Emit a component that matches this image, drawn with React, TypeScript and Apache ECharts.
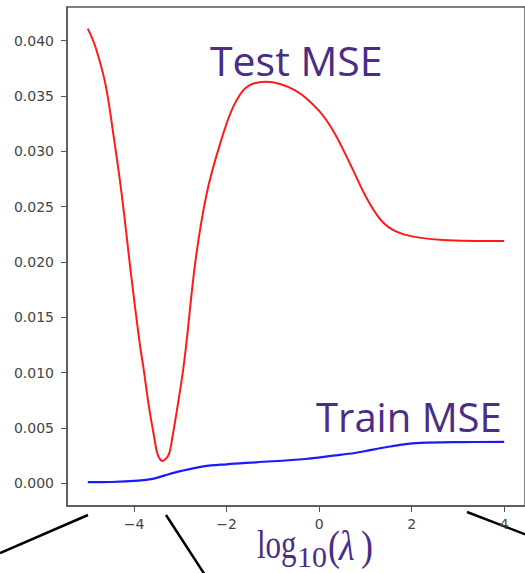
import React, { useEffect, useRef } from "react";
import * as echarts from "echarts";

const testX = [-5.0, -4.84, -4.62, -4.45, -4.27, -4.06, -3.88, -3.79, -3.69, -3.567, -3.5, -3.44, -3.384, -3.32, -3.24, -3.17, -3.05, -2.94, -2.87, -2.67, -2.43, -2.14, -1.86, -1.57, -1.15, -0.51, -0.01, 0.34, 0.7, 1.05, 1.4, 1.83, 2.68, 4.0];
const testY = [0.0411, 0.0395, 0.0361, 0.0316, 0.0262, 0.0187, 0.0127, 0.01024, 0.00723, 0.00421, 0.00271, 0.00218, 0.00202, 0.00218, 0.00271, 0.00421, 0.00723, 0.01024, 0.01265, 0.0202, 0.0262, 0.0307, 0.034, 0.0358, 0.0363, 0.0355, 0.0337, 0.0316, 0.0286, 0.0256, 0.0235, 0.0225, 0.022, 0.0219];

const trainX = [-5.0, -4.5, -3.91, -3.6, -3.35, -3.0, -2.5, -2.0, -1.36, -0.3, 0.3, 0.77, 1.1, 1.47, 1.8, 2.19, 3.0, 4.0];
const trainY = [0.0001, 0.00012, 0.00024, 0.0004, 0.0007, 0.0011, 0.00153, 0.00172, 0.0019, 0.0022, 0.0025, 0.00274, 0.003, 0.00328, 0.0035, 0.00365, 0.00372, 0.00374];

const yTicks = [0, 0.005, 0.01, 0.015, 0.02, 0.025, 0.03, 0.035, 0.04];
const xTicks = [-4, -2, 0, 2, 4];

const PURPLE = "#4a2d87";

export default function App() {
  const ref = useRef<HTMLDivElement>(null);
  useEffect(() => {
    if (!ref.current) return;
    const chart = echarts.init(ref.current, null, { renderer: "svg" });
    const serif = "'Liberation Serif', 'DejaVu Serif', serif";
    chart.setOption({
      animation: false,
      grid: {
        left: 67,
        top: 7,
        width: 466,
        height: 499,
        show: true,
        borderColor: "#555",
        borderWidth: 1.5,
        backgroundColor: "transparent",
      },
      xAxis: {
        type: "value",
        min: -5.45,
        max: 4.45,
        splitLine: { show: false },
        axisLine: { show: true, onZero: false, lineStyle: { color: "#555", width: 1.5 } },
        axisTick: { show: true, length: 6, lineStyle: { color: "#555" }, customValues: xTicks },
        axisLabel: {
          customValues: xTicks,
          margin: 11,
          color: "#444",
          fontFamily: "DejaVu Sans",
          fontSize: 14,
          formatter: (v: number) => (v < 0 ? "\u2212" + Math.abs(v) : String(v)),
        },
      },
      yAxis: {
        type: "value",
        min: -0.00205,
        max: 0.04305,
        splitLine: { show: false },
        axisLine: { show: true, onZero: false, lineStyle: { color: "#555", width: 1.5 } },
        axisTick: { show: true, length: 6, lineStyle: { color: "#555" }, customValues: yTicks },
        axisLabel: {
          customValues: yTicks,
          margin: 13,
          color: "#444",
          fontFamily: "DejaVu Sans",
          fontSize: 14,
          formatter: (v: number) => v.toFixed(3),
        },
      },
      series: [
        {
          type: "line",
          data: testX.map((x, i) => [x, testY[i]]),
          smooth: 0.35,
          showSymbol: false,
          lineStyle: { color: "#ff1a1a", width: 2 },
        },
        {
          type: "line",
          data: trainX.map((x, i) => [x, trainY[i]]),
          smooth: 0.35,
          showSymbol: false,
          lineStyle: { color: "#1a1aff", width: 2.2 },
        },
      ],
      graphic: [
        {
          type: "text",
          x: 210,
          y: 60,
          style: { text: "Test MSE", fill: PURPLE, font: "41px 'Open Sans'", textVerticalAlign: "middle" },
        },
        {
          type: "text",
          x: 316,
          y: 416,
          style: { text: "Train MSE", fill: PURPLE, font: "40px 'Open Sans'", textVerticalAlign: "middle" },
        },
        {
          type: "text",
          x: 257,
          y: 545,
          scaleY: 1.3,
          style: { text: "log", fill: PURPLE, font: `31px ${serif}`, textVerticalAlign: "middle" },
        },
        {
          type: "text",
          x: 297,
          y: 556,
          style: { text: "10", fill: PURPLE, font: `30px ${serif}`, textVerticalAlign: "middle" },
        },
        {
          type: "text",
          x: 328,
          y: 546,
          scaleY: 1.15,
          style: { text: "(", fill: PURPLE, font: `36px ${serif}`, textVerticalAlign: "middle" },
        },
        {
          type: "text",
          x: 339,
          y: 546,
          scaleY: 1.15,
          style: { text: "\u03bb", fill: PURPLE, font: `italic 36px ${serif}`, textVerticalAlign: "middle" },
        },
        {
          type: "text",
          x: 361,
          y: 546,
          scaleY: 1.15,
          style: { text: ")", fill: PURPLE, font: `36px ${serif}`, textVerticalAlign: "middle" },
        },
        { type: "line", shape: { x1: 0, y1: 553, x2: 88, y2: 515 }, style: { stroke: "#000", lineWidth: 2.5 } },
        { type: "line", shape: { x1: 166, y1: 515, x2: 205, y2: 575 }, style: { stroke: "#000", lineWidth: 2.5 } },
        { type: "line", shape: { x1: 467, y1: 512, x2: 540, y2: 540 }, style: { stroke: "#000", lineWidth: 2.5 } },
      ],
    });
    return () => chart.dispose();
  }, []);
  return <div ref={ref} style={{ position: "absolute", left: 0, top: 0, width: 525, height: 573 }} />;
}
